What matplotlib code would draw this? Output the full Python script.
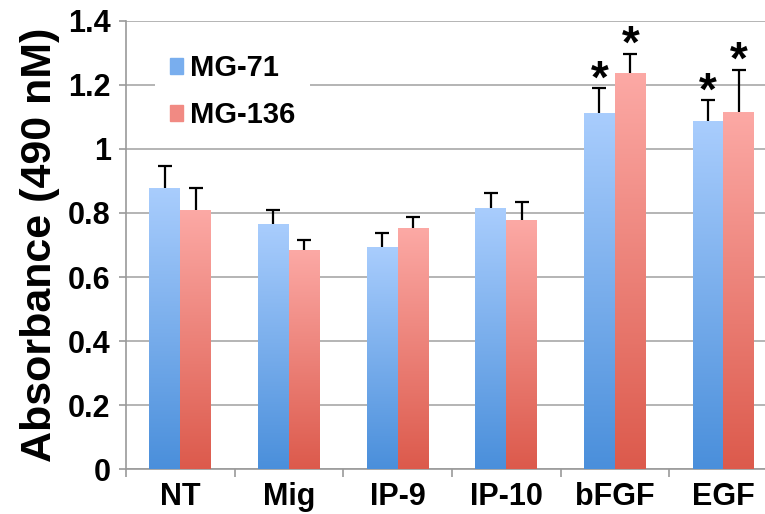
import numpy as np
import matplotlib
matplotlib.use("Agg")
from matplotlib import pyplot as plt
from matplotlib.colors import LinearSegmentedColormap
from matplotlib.patches import Patch

plt.rcParams["font.family"] = ["Liberation Sans", "DejaVu Sans"]
plt.rcParams["font.weight"] = "bold"

categories = ["NT", "Mig", "IP-9", "IP-10", "bFGF", "EGF"]
mg71 = [0.875, 0.762, 0.692, 0.813, 1.109, 1.084]
mg71Err = [0.073, 0.047, 0.045, 0.048, 0.080, 0.068]
mg136 = [0.806, 0.681, 0.750, 0.775, 1.234, 1.111]
mg136Err = [0.071, 0.035, 0.036, 0.059, 0.063, 0.136]
mg71Star = [False, False, False, False, True, True]
mg136Star = [False, False, False, False, True, True]
yTicks = [0, 0.2, 0.4, 0.6, 0.8, 1.0, 1.2, 1.4]
yTickLabels = ["0", "0.2", "0.4", "0.6", "0.8", "1", "1.2", "1.4"]

blueMap = LinearSegmentedColormap.from_list("blue", ["#4A8FDB", "#A9CDFD"])
redMap = LinearSegmentedColormap.from_list("red", ["#DC5A4C", "#FCA9A5"])

fig = plt.figure(figsize=(7.65, 5.14), dpi=100)
ax = fig.add_axes([0.1647, 0.087, 0.852, 0.8728])

x = np.arange(len(categories))
barWidth = 0.285
gradient = np.linspace(0, 1, 256).reshape(-1, 1)


def gradientBars(xPos, values, cmap):
    bars = ax.bar(xPos, values, barWidth, color="none", edgecolor="none", zorder=3)
    for rect in bars:
        x0 = rect.get_x()
        ax.imshow(
            gradient,
            cmap=cmap,
            origin="lower",
            aspect="auto",
            extent=[x0, x0 + rect.get_width(), 0, rect.get_height()],
            zorder=3,
        )
    return bars


def upperErrors(xPos, values, errs, stars):
    eb = ax.errorbar(
        xPos,
        values,
        yerr=[np.zeros(len(values)), errs],
        fmt="none",
        ecolor="black",
        elinewidth=1.6,
        capsize=4.7,
        capthick=1.6,
        zorder=2,
    )
    for cap in eb[1]:
        if np.allclose(cap.get_ydata(), values):
            cap.set_visible(False)
    for xi, v, e, s in zip(xPos, values, errs, stars):
        if s:
            ax.annotate(
                "*",
                xy=(xi, v + e),
                xytext=(0, -3),
                textcoords="offset points",
                ha="center",
                va="baseline",
                fontsize=33,
                fontweight="bold",
            )


gradientBars(x - barWidth / 2, mg71, blueMap)
gradientBars(x + barWidth / 2, mg136, redMap)
upperErrors(x - barWidth / 2, mg71, mg71Err, mg71Star)
upperErrors(x + barWidth / 2, mg136, mg136Err, mg136Star)

ax.set_xlim(-0.5, len(categories) - 0.5)
ax.set_ylim(0, 1.4)
ax.set_yticks(yTicks)
ax.set_yticklabels(yTickLabels, fontsize=22, fontweight="bold")
ax.set_xticks(x)
ax.set_xticklabels(categories, fontsize=22, fontweight="bold")
ax.set_xticks(np.arange(len(categories) + 1) - 0.5, minor=True)
ax.tick_params(axis="x", which="major", length=0, pad=9)
ax.tick_params(axis="x", which="minor", length=6, width=1.2, color="#9A9A9A")
ax.tick_params(axis="y", length=5, width=1.2, color="#9A9A9A", pad=6)
ax.grid(axis="y", color="#A8A8A8", linewidth=1.2, zorder=0)
ax.set_axisbelow(True)
for side in ["top", "right"]:
    ax.spines[side].set_visible(False)
for side in ["left", "bottom"]:
    ax.spines[side].set_color("#9A9A9A")
    ax.spines[side].set_linewidth(1.2)

ax.set_ylabel("Absorbance (490 nM)", fontsize=31, fontweight="bold", labelpad=6)

handles = [Patch(color="#79AEEE", label="MG-71"), Patch(color="#F18A83", label="MG-136")]
leg = ax.legend(
    handles=handles,
    loc="upper left",
    bbox_to_anchor=(0.022, 0.99),
    frameon=True,
    facecolor="white",
    edgecolor="none",
    framealpha=1,
    fancybox=False,
    handlelength=0.45,
    handleheight=0.45,
    handletextpad=0.25,
    labelspacing=0.65,
    borderpad=0.5,
    prop={"weight": "bold", "size": 21},
)
leg.set_zorder(1)

fig.savefig("out.png", dpi=100)
